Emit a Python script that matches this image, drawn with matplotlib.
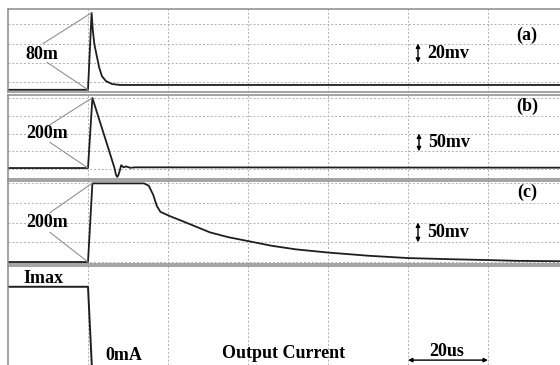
import matplotlib
matplotlib.use("Agg")
import matplotlib.pyplot as plt

# time axis (us), 20 us per division
t_grid = [0, 20, 40, 60, 80, 100]

# (a) output voltage ripple, mV
a_t = [-20, 0, 0.9, 1.2, 1.6, 2.1, 2.8, 3.5, 4.5, 6.0, 8, 118]
a_mv = [-8, -8, 72, 54, 39, 29, 15, 6, 1, -2, -3, -3]
a_grid = [0, 20, 40, 60]

# (b)
b_t = [-20, 0, 1.1, 4, 6.6, 7.0, 7.3, 7.6, 7.9, 8.3, 8.9, 9.5, 10.6, 11.8, 118]
b_mv = [3, 3, 200, 97, 4, -16, -22, -17, -6, 11, 5, 7.5, 3.6, 5, 4]
b_grid = [0, 50, 100, 150, 200]

# (c)
c_t = [-20, 0, 1.1, 14, 15.2, 16.3, 17.2, 18.1, 20.5, 24.7, 30.5, 35, 40, 46,
       52, 60, 70, 80, 91, 100, 107, 118]
c_mv = [0, 0, 199, 199, 193, 170, 142, 127, 116, 99, 75, 63, 53, 41,
        32, 24, 16, 10, 7, 5, 3, 2]
c_grid = [0, 50, 100, 150, 200]

# output current step (Imax = 1)
d_t = [-20, 0, 0.97, 118]
d_i = [1, 1, 0, 0]

W, H = 560, 365
fig = plt.figure(figsize=(W / 100, H / 100), dpi=100)

FONT = dict(family="Liberation Serif", weight="bold", size=13)
TRACE = "#1e1e1e"
GRIDC = "#b0b0b0"
EDGE = "#8a8a8a"


def make_axes(top, bottom, ylim, yticks):
    ax = fig.add_axes([8 / W, 1 - bottom / H, (W - 8) / W, (bottom - top) / H])
    ax.set_xlim(-20, 118)
    ax.set_ylim(*ylim)
    ax.set_xticks(t_grid)
    ax.set_yticks(yticks)
    ax.tick_params(length=0, labelleft=False, labelbottom=False)
    ax.grid(True, color=GRIDC, linestyle=(0, (2, 2)), linewidth=0.7)
    ax.spines["right"].set_visible(False)
    for s in ["left", "top", "bottom"]:
        ax.spines[s].set_color(EDGE)
        ax.spines[s].set_linewidth(1.1)
    return ax


def amp_label(ax, text, xy_text, top_pt, base_pt, up, down):
    ax.text(xy_text[0], xy_text[1], text, ha="center", va="center", **FONT)
    ax.plot([up[0], top_pt[0]], [up[1], top_pt[1]], color="#909090", lw=0.8)
    ax.plot([down[0], base_pt[0]], [down[1], base_pt[1]], color="#909090", lw=0.8)


def scale_mark(ax, x, y0, y1, text):
    ax.annotate("", xy=(x, y1), xytext=(x, y0),
                arrowprops=dict(arrowstyle="<|-|>", color="black", lw=1.0,
                                mutation_scale=6, shrinkA=0, shrinkB=0))
    ax.text(x + 2.3, (y0 + y1) / 2, text, ha="left", va="center", **FONT)


# panel (a)
ax_a = make_axes(9, 92, (-10.3, 75.9), a_grid)
ax_a.plot(a_t, a_mv, color=TRACE, lw=1.3)
amp_label(ax_a, "80m", (-11.5, 29), (0.9, 72), (0, -8), (-11.25, 40), (-10.25, 20.5))
scale_mark(ax_a, 82.5, 20, 40, "20mv")
ax_a.text(109.8, 49, "(a)", ha="center", va="center", **FONT)

# panel (b)
ax_b = make_axes(95, 179, (-27.8, 208.3), b_grid)
ax_b.plot(b_t, b_mv, color=TRACE, lw=1.3)
amp_label(ax_b, "200m", (-10.25, 100), (1.0, 200), (0, 3), (-9.5, 125), (-9.5, 75))
scale_mark(ax_b, 82.75, 50, 100, "50mv")
ax_b.text(109.7, 176, "(b)", ha="center", va="center", **FONT)

# panel (c)
ax_c = make_axes(181, 264, (-5, 205), c_grid)
ax_c.plot(c_t, c_mv, color=TRACE, lw=1.3)
amp_label(ax_c, "200m", (-10.25, 100), (1.0, 199), (0, 0), (-9.5, 125), (-9.5, 75))
scale_mark(ax_c, 82.5, 50, 100, "50mv")
ax_c.text(109.9, 177, "(c)", ha="center", va="center", **FONT)

# output current panel
ax_d = make_axes(266, 365, (0.025, 1.259), [])
ax_d.spines["bottom"].set_visible(False)
ax_d.plot(d_t, d_i, color=TRACE, lw=1.4)
ax_d.text(-11.25, 1.10, "Imax", ha="center", va="center", **FONT)
ax_d.text(8.9, 0.145, "0mA", ha="center", va="center", **FONT)
ax_d.text(48.8, 0.17, "Output Current", ha="center", va="center", **FONT)
ax_d.text(89.75, 0.19, "20us", ha="center", va="center", **FONT)
ax_d.annotate("", xy=(100, 0.086), xytext=(80, 0.086),
              arrowprops=dict(arrowstyle="<|-|>", color="black", lw=1.0,
                              mutation_scale=6, shrinkA=0, shrinkB=0))

fig.savefig("out.png", dpi=100)
